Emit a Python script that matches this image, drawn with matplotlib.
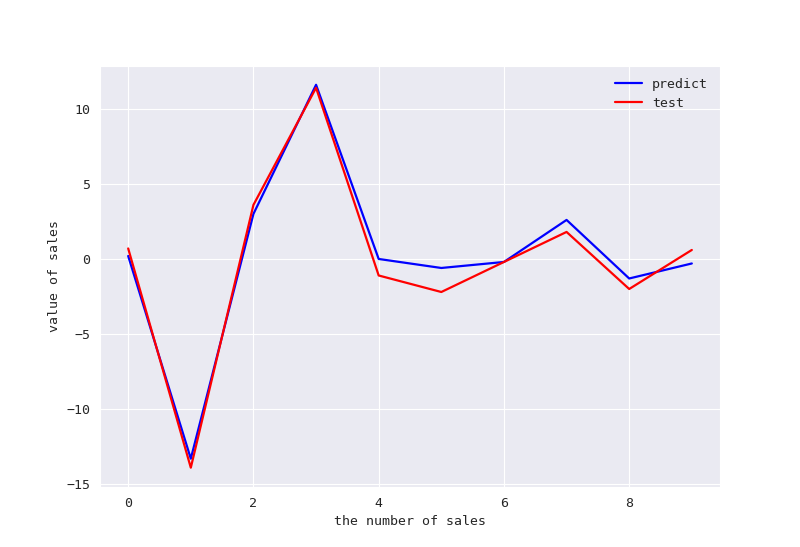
import matplotlib
matplotlib.use('Agg')
import matplotlib.pyplot as plt
import seaborn as sns
import numpy as np

# values
x = np.arange(10)
predict = [0.2, -13.3, 3.0, 11.6, 0.0, -0.6, -0.2, 2.6, -1.3, -0.3]
test = [0.7, -13.9, 3.6, 11.4, -1.1, -2.2, -0.2, 1.8, -2.0, 0.6]

sns.set_style('darkgrid')
# SimHei-like look: monospaced latin glyphs
plt.rcParams['font.family'] = ['DejaVu Sans Mono', 'Noto Sans CJK SC']
plt.rcParams['font.size'] = 9.5

fig = plt.figure(figsize=[8, 5.47], dpi=100)
ax = fig.add_subplot(1, 1, 1)
ax.plot(x, predict, color='blue', label='predict', linewidth=1.6)
ax.plot(x, test, color='red', label='test', linewidth=1.6)
ax.set_xlabel('the number of sales')
ax.set_ylabel('value of sales')
ax.legend(loc='upper right', frameon=False)
plt.savefig('out.png', dpi=100)
